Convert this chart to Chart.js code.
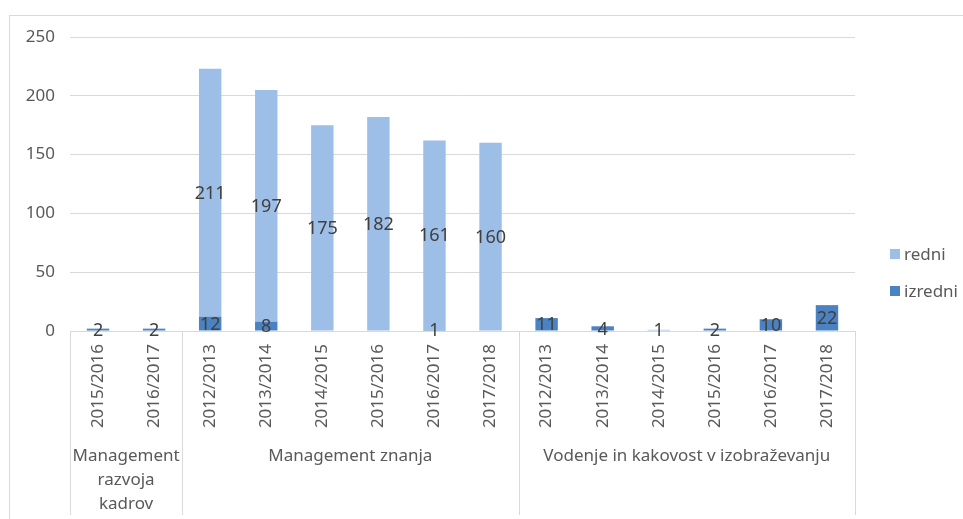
<!DOCTYPE html>
<html>
<head>
<meta charset="utf-8">
<script src="https://cdn.jsdelivr.net/npm/chart.js@4/dist/chart.umd.min.js"></script>
<style>
  html, body { margin: 0; padding: 0; background: #fff; }
  #wrap { position: relative; width: 963px; height: 519px; }
  #frame { position: absolute; left: 9px; top: 15px; right: -2px; bottom: -2px; border: 1px solid #D9D9D9; }
  #legend { position: absolute; left: 890px; top: 242px; font: 17px "Noto Sans", sans-serif; color: #595959; }
  #legend div { height: 37px; display: flex; align-items: flex-start; }
  #legend span.box { display: inline-block; width: 10px; height: 10px; margin: 7px 4px 0 0; }
</style>
</head>
<body>
<div id="wrap">
  <div id="frame"></div>
  <canvas id="myChart" width="963" height="519"></canvas>
  <div id="legend">
    <div><span class="box" style="background:#9DBEE6"></span>redni</div>
    <div><span class="box" style="background:#4A82C2"></span>izredni</div>
  </div>
</div>
<script>
// kategorije (leto) in skupine (program)
const years = ["2015/2016","2016/2017",
  "2012/2013","2013/2014","2014/2015","2015/2016","2016/2017","2017/2018",
  "2012/2013","2013/2014","2014/2015","2015/2016","2016/2017","2017/2018"];
const groups = [
  { name: ["Management", "razvoja", "kadrov"], from: 0, to: 1 },
  { name: ["Management znanja"], from: 2, to: 7 },
  { name: ["Vodenje in kakovost v izobraževanju"], from: 8, to: 13 }
];
const redni   = [0, 0, 211, 197, 175, 182, 161, 160, 0, 0, 1, 0, 0, 0];
const izredni = [2, 2, 12, 8, 0, 0, 1, 0, 11, 4, 0, 2, 10, 22];
const yTicks = [0, 50, 100, 150, 200, 250];

const FONT = '"Noto Sans", sans-serif';

// oznake vrednosti na stolpcih
const valueLabels = {
  id: 'valueLabels',
  afterDatasetsDraw(chart) {
    const c = chart.ctx;
    c.save();
    c.font = '18px ' + FONT;
    c.fillStyle = '#404040';
    c.textAlign = 'center';
    c.textBaseline = 'middle';
    chart.data.datasets.forEach((ds, i) => {
      chart.getDatasetMeta(i).data.forEach((bar, j) => {
        const v = ds.data[j];
        if (!v) return;
        c.fillText(String(v), bar.x, (bar.y + bar.base) / 2 + 1);
      });
    });
    c.restore();
  }
};

// dvonivojska os x: ločilne črte in imena skupin
const groupAxis = {
  id: 'groupAxis',
  afterDraw(chart) {
    const c = chart.ctx;
    const x = chart.scales.x;
    const half = (x.getPixelForValue(1) - x.getPixelForValue(0)) / 2;
    const top = chart.chartArea.bottom;
    const bottom = 515;
    c.save();
    c.strokeStyle = '#D9D9D9';
    c.lineWidth = 1;
    const edges = [x.getPixelForValue(0) - half];
    groups.forEach(g => edges.push(x.getPixelForValue(g.to) + half));
    edges.forEach(px => {
      c.beginPath();
      c.moveTo(Math.round(px) + 0.5, top);
      c.lineTo(Math.round(px) + 0.5, bottom);
      c.stroke();
    });
    c.font = '17px ' + FONT;
    c.fillStyle = '#595959';
    c.textAlign = 'center';
    c.textBaseline = 'middle';
    groups.forEach(g => {
      const cx = (x.getPixelForValue(g.from) + x.getPixelForValue(g.to)) / 2;
      g.name.forEach((line, k) => c.fillText(line, cx, 456 + k * 24));
    });
    c.restore();
  }
};

const ctx = document.getElementById('myChart');
new Chart(ctx, {
  type: 'bar',
  data: {
    labels: years,
    datasets: [
      { label: 'izredni', data: izredni, backgroundColor: '#4A82C2', barPercentage: 0.4, categoryPercentage: 1 },
      { label: 'redni', data: redni, backgroundColor: '#9DBEE6', barPercentage: 0.4, categoryPercentage: 1 }
    ]
  },
  options: {
    responsive: false,
    animation: false,
    layout: { padding: { top: 37, right: 108, left: 0, bottom: 0 } },
    plugins: { legend: { display: false }, tooltip: { enabled: false } },
    scales: {
      x: {
        stacked: true,
        grid: { display: false },
        border: { color: '#D9D9D9' },
        ticks: { minRotation: 90, maxRotation: 90, autoSkip: false, padding: 5, color: '#595959', font: { family: FONT, size: 17 } },
        afterFit(s) { s.height = 188; }
      },
      y: {
        stacked: true,
        min: 0,
        max: 250,
        afterBuildTicks(s) { s.ticks = yTicks.map(v => ({ value: v })); },
        grid: { color: '#D9D9D9', drawTicks: false },
        border: { display: false },
        ticks: { padding: 15, color: '#595959', font: { family: FONT, size: 17 } },
        afterFit(s) { s.width = 70; }
      }
    }
  },
  plugins: [valueLabels, groupAxis]
});
</script>
</body>
</html>
